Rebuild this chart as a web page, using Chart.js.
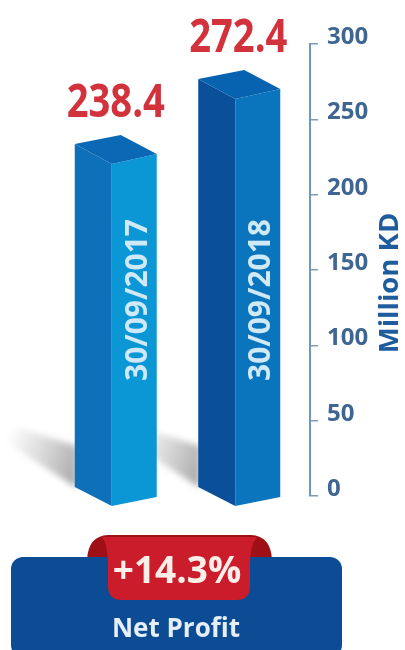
<!DOCTYPE html>
<html>
<head>
<meta charset="utf-8">
<style>
html, body { margin: 0; padding: 0; background: #fff; }
#wrap { width: 405px; height: 650px; }
</style>
<script src="https://cdn.jsdelivr.net/npm/chart.js@4"></script>
</head>
<body>
<div id="wrap"><canvas id="profitChart"></canvas></div>
<script>
// data
const dates = ['30/09/2017', '30/09/2018'];
const profit = [238.4, 272.4];
const positions = [1, 2];
const axisTitle = 'Million KD';
const changeText = '+14.3%';
const bannerText = 'Net Profit';

const family = '"Open Sans", sans-serif';

const faces = [
  { left: '#0f70ba', right: '#0b97d6', top: '#0b68b5' },
  { left: '#0a4f99', right: '#0a74bd', top: '#0762b0' }
];

function poly(ctx, pts, fill) {
  ctx.beginPath();
  pts.forEach((p, i) => i ? ctx.lineTo(p[0], p[1]) : ctx.moveTo(p[0], p[1]));
  ctx.closePath();
  ctx.fillStyle = fill;
  ctx.fill();
}

// text squeezed sideways, the original type is a condensed face
function label(ctx, text, x, y, size, color, squeeze, angle) {
  ctx.save();
  ctx.translate(x, y);
  if (angle) ctx.rotate(angle);
  ctx.scale(squeeze, 1);
  ctx.font = 'bold ' + size + 'px ' + family;
  ctx.fillStyle = color;
  ctx.textAlign = 'center';
  ctx.textBaseline = 'middle';
  ctx.fillText(text, 0, 0);
  ctx.restore();
}

// soft shadow falling up and to the left of a bar, x is the bar's left edge
function floorShadow(ctx, x, b, reach) {
  const g = ctx.createLinearGradient(x - reach, b - 50, x, b - 25);
  g.addColorStop(0, 'rgba(150,150,150,0)');
  g.addColorStop(1, 'rgba(120,120,120,0.6)');
  ctx.save();
  ctx.filter = 'blur(3px)';
  poly(ctx, [[x - reach, b - 56], [x - reach + 16, b - 68], [x + 2, b - 50], [x + 2, b - 8]], g);
  ctx.restore();
}

// the drawing in the picture has a shallow 3D bar, so each bar is drawn from its element
const bar3d = {
  id: 'bar3d',
  beforeDatasetsDraw(chart) {
    const ctx = chart.ctx;
    const bars = chart.getDatasetMeta(0).data;
    const b = chart.scales.yBars.bottom;
    ctx.save();
    floorShadow(ctx, bars[0].x - 41, b, 72);
    floorShadow(ctx, bars[1].x - 41, b, 72);
    bars.forEach((bar, i) => {
      const l = bar.x - bar.width / 2;
      const r = bar.x + bar.width / 2;
      const m = l + 37;
      const t = bar.y;
      poly(ctx, [[l, t], [m, t + 20], [m, b + 10], [l, b - 9]], faces[i].left);
      poly(ctx, [[m, t + 20], [r, t + 10], [r, b + 1], [m, b + 10]], faces[i].right);
      poly(ctx, [[l, t], [l + 46, t - 9], [r, t + 10], [m, t + 20]], faces[i].top);
      label(ctx, dates[i], m + (i ? 26 : 27), 300, 30, '#cfe9f6', 1, -Math.PI / 2);
      label(ctx, profit[i].toFixed(1), bar.x - (i ? 1 : 0), t - 40, 46, '#d2323c', 0.83);
    });
    ctx.restore();
  },
  afterDraw(chart) {
    const ctx = chart.ctx;
    label(ctx, axisTitle, 390, 283, 27, '#1f5c9e', 1.02, -Math.PI / 2);

    ctx.save();
    // ribbon folds behind the banner
    ctx.fillStyle = '#9e0f16';
    ctx.beginPath();
    ctx.moveTo(87, 560);
    ctx.quadraticCurveTo(88, 536, 108, 535);
    ctx.lineTo(251, 535);
    ctx.quadraticCurveTo(271, 536, 272, 560);
    ctx.closePath();
    ctx.fill();

    ctx.fillStyle = '#0b4c94';
    ctx.beginPath();
    ctx.roundRect(11, 557, 331, 100, 12);
    ctx.fill();

    ctx.fillStyle = '#cb1c2b';
    ctx.beginPath();
    ctx.moveTo(102, 537);
    ctx.lineTo(257, 537);
    ctx.quadraticCurveTo(250, 545, 250, 565);
    ctx.lineTo(250, 586);
    ctx.quadraticCurveTo(250, 600, 236, 600);
    ctx.lineTo(122, 600);
    ctx.quadraticCurveTo(108, 600, 108, 586);
    ctx.lineTo(108, 565);
    ctx.quadraticCurveTo(108, 545, 102, 537);
    ctx.closePath();
    ctx.fill();
    ctx.restore();

    label(ctx, changeText, 177, 572, 37, '#fbeee8', 1);
    label(ctx, bannerText, 176, 630, 26, '#e6eef8', 1);
  }
};

new Chart(document.getElementById('profitChart'), {
  type: 'bar',
  data: {
    datasets: [{
      label: 'Net Profit',
      data: positions.map((x, i) => ({ x: x, y: profit[i] })),
      yAxisID: 'yBars',
      backgroundColor: 'rgba(0,0,0,0)',
      barThickness: 82
    }]
  },
  options: {
    responsive: true,
    maintainAspectRatio: false,
    animation: false,
    layout: { padding: { left: 54, right: 0, top: 44, bottom: 154 } },
    plugins: { legend: { display: false }, tooltip: { enabled: false } },
    scales: {
      x: { type: 'linear', display: false, offset: false, min: 0.5, max: 2.573 },
      // the bars in the picture do not sit on the printed axis, this hidden one lines them up
      yBars: { display: false, min: 54.3, max: 290.7 },
      y: {
        position: 'right',
        min: 0,
        max: 300,
        afterFit(scale) { scale.width = 95; },
        border: { display: true, color: '#6f97bb', width: 2 },
        grid: { drawOnChartArea: false, color: '#7d9dbd', tickLength: 8, lineWidth: 1.5 },
        ticks: {
          stepSize: 50,
          color: '#3f6592',
          padding: 9,
          labelOffset: -7,
          font: { family: family, weight: 'bold', size: 24 }
        }
      }
    }
  },
  plugins: [bar3d]
});
</script>
</body>
</html>
